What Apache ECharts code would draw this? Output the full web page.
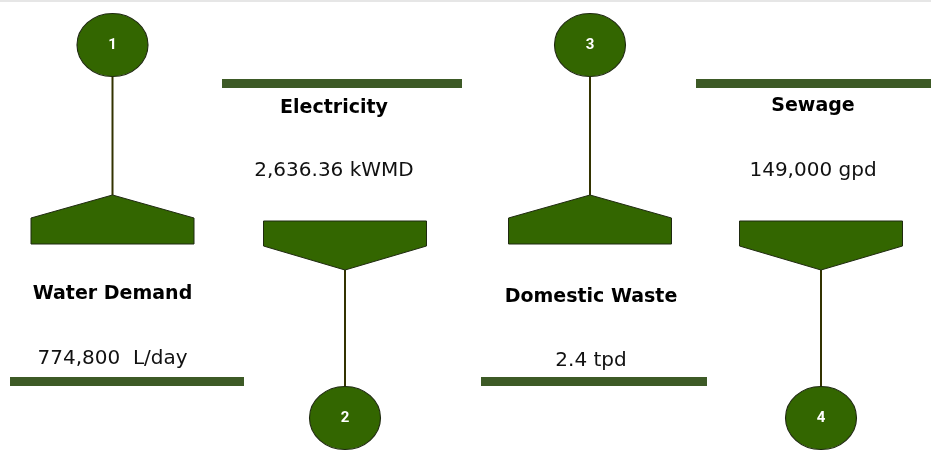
<!DOCTYPE html>
<html><head><meta charset="utf-8">
<script src="https://cdn.jsdelivr.net/npm/echarts@6/dist/echarts.min.js"></script>
<style>html,body{margin:0;padding:0;background:#fff}#c{width:931px;height:451px}</style>
</head><body><div id="c"></div>
<script>
// ---- data ----
const categories = ['Water Demand', 'Electricity', 'Domestic Waste', 'Sewage'];
const valueLabels = ['774,800  L/day', '2,636.36 kWMD', '2.4 tpd', '149,000 gpd'];
const stepNumbers = ['1', '2', '3', '4'];

// ---- layout (positions in axis units = pixels) ----
const centers = [112.5, 345, 590, 821];
const textCenters = [112.5, 334, 591, 813];
const labelYs = [294, 108, 297, 106];
const valueYs = [359, 171, 361, 171];
const barSpans = [[10, 244], [222, 462], [481, 707], [696, 931]];

const FILL = '#336600', EDGE = '#1f2a10', STEM = '#333300', BAR = '#3d5a26';
const FONT = '"DejaVu Sans", "Open Sans", sans-serif';

function renderItem(params, api) {
  const i = params.dataIndex;
  const cx = api.value(0);
  const up = i % 2 === 0;
  const P = (x, y) => api.coord([x, y]);
  const hw = 81.5;
  const children = [];
  const span = barSpans[i];
  let circleY, stem, poly, barY;
  if (up) {
    circleY = 45; stem = [76, 195];
    poly = [[cx, 195], [cx + hw, 218], [cx + hw, 244], [cx - hw, 244], [cx - hw, 218]];
    barY = 377;
  } else {
    circleY = 418; stem = [270, 387];
    poly = [[cx - hw, 221], [cx + hw, 221], [cx + hw, 246], [cx, 270], [cx - hw, 246]];
    barY = 79;
  }
  const b0 = P(span[0], barY), b1 = P(span[1], barY + 9);
  children.push({ type: 'rect', shape: { x: b0[0], y: b0[1], width: b1[0] - b0[0], height: b1[1] - b0[1] }, style: { fill: BAR } });
  const s0 = P(cx, stem[0]), s1 = P(cx, stem[1]);
  children.push({ type: 'line', shape: { x1: s0[0], y1: s0[1], x2: s1[0], y2: s1[1] }, style: { stroke: STEM, lineWidth: 2 } });
  children.push({ type: 'polygon', shape: { points: poly.map(p => P(p[0], p[1])) }, style: { fill: FILL, stroke: EDGE, lineWidth: 1 } });
  const c = P(cx, circleY);
  children.push({ type: 'circle', x: c[0], y: c[1], scaleX: 35.5 / 31.5, shape: { cx: 0, cy: 0, r: 31.5 }, style: { fill: FILL, stroke: EDGE, lineWidth: 1 } });
  children.push({ type: 'text', x: c[0], y: c[1], style: { text: stepNumbers[i], fill: '#ffffff', fontSize: 15, fontWeight: 'bold', fontFamily: 'Roboto, sans-serif', align: 'center', verticalAlign: 'middle' } });
  const l = P(textCenters[i], labelYs[i]);
  children.push({ type: 'text', x: l[0], y: l[1], style: { text: categories[i], fill: '#000', fontSize: 19, fontWeight: 'bold', fontFamily: FONT, align: 'center', verticalAlign: 'middle' } });
  const v = P(textCenters[i], valueYs[i]);
  children.push({ type: 'text', x: v[0], y: v[1], style: { text: valueLabels[i], fill: '#111', fontSize: 20, fontFamily: FONT, align: 'center', verticalAlign: 'middle' } });
  return { type: 'group', children };
}

const chart = echarts.init(document.getElementById('c'), null, { renderer: 'canvas' });
chart.setOption({
  backgroundColor: '#ffffff',
  animation: false,
  grid: { left: 0, right: 0, top: 0, bottom: 0 },
  xAxis: { type: 'value', min: 0, max: 931, show: false },
  yAxis: { type: 'value', min: 0, max: 451, inverse: true, show: false },
  graphic: [{ type: 'rect', shape: { x: 0, y: 0, width: 931, height: 2 }, style: { fill: '#e6e6e6' } }],
  series: [{
    type: 'custom',
    renderItem,
    data: categories.map((name, i) => ({ name, value: [centers[i], i] }))
  }]
});
</script></body></html>
